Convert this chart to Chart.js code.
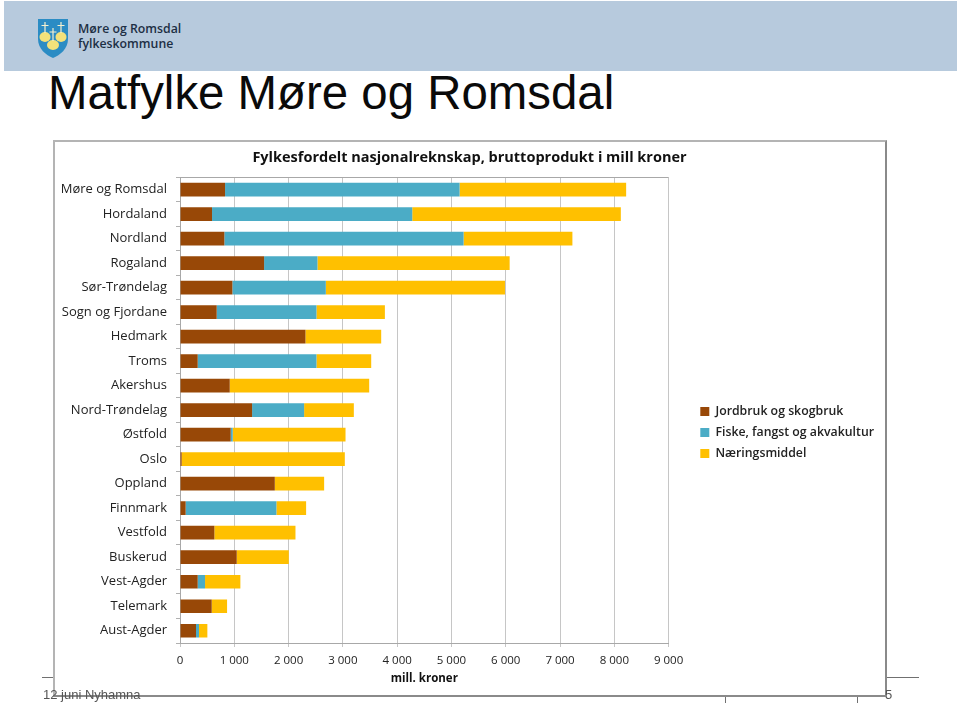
<!DOCTYPE html>
<html>
<head>
<meta charset="utf-8">
<script src="https://cdn.jsdelivr.net/npm/chart.js@4"></script>
<style>
  html, body { margin: 0; padding: 0; background: #fff; }
  body { position: relative; width: 960px; height: 704px; overflow: hidden; font-family: 'Liberation Sans', sans-serif; }
  .band { position: absolute; left: 4px; top: 1px; width: 953px; height: 70px; background: #b7cadd; }
  .shield { position: absolute; left: 38px; top: 19px; }
  .org { position: absolute; left: 78px; top: 21px; font: 600 12.3px/15px 'Open Sans', sans-serif; color: #1d2f44; }
  h1 { position: absolute; left: 48px; top: 63px; margin: 0; font: 400 47.4px/60px 'Liberation Sans', sans-serif; color: #0a0a0a; }
  .panel { position: absolute; left: 53px; top: 140px; width: 830px; height: 553px; background: #fff;
    border: 2px solid #b4b4b4; border-right-color: #8a8a8a; border-bottom-color: #8a8a8a; filter: blur(0.35px); }
  .rule { position: absolute; background: #707070; }
  .foot { position: absolute; font-size: 13px; line-height: 16px; color: #555; }
</style>
</head>
<body>
<div class="band"></div>
<svg class="shield" width="30" height="40" viewBox="0 0 30 40">
  <path d="M0 0H30V20C30 30 22 36 15 39C8 36 0 30 0 20Z" fill="#2b8cc4"/>
  <g fill="#f4e27a">
    <ellipse cx="7" cy="18" rx="5.5" ry="5"/>
    <ellipse cx="23" cy="18" rx="5.5" ry="5"/>
    <ellipse cx="15" cy="26" rx="6" ry="5"/>
  </g>
  <g stroke="#f5f1d0" stroke-width="1.2">
    <path d="M7 3V14M3.5 6.5H10.5"/>
    <path d="M23 3V14M19.5 6.5H26.5"/>
    <path d="M15 9V22M11.5 13H18.5"/>
  </g>
</svg>
<div class="org">Møre og Romsdal<br>fylkeskommune</div>
<h1>Matfylke Møre og Romsdal</h1>

<div class="rule" style="left:42px;top:677px;width:12px;height:1px"></div>
<div class="rule" style="left:886px;top:677px;width:33px;height:1px"></div>
<div class="rule" style="left:725px;top:696px;width:1px;height:7px"></div>
<div class="rule" style="left:857px;top:696px;width:1px;height:7px"></div>

<div class="panel"><canvas id="fylke" width="830" height="553"></canvas></div>

<div class="foot" style="left:43px;top:687px">12 juni Nyhamna</div>
<div class="foot" style="left:885px;top:687px">5</div>

<script>
const fylker = [
  'Møre og Romsdal', 'Hordaland', 'Nordland', 'Rogaland', 'Sør-Trøndelag',
  'Sogn og Fjordane', 'Hedmark', 'Troms', 'Akershus', 'Nord-Trøndelag',
  'Østfold', 'Oslo', 'Oppland', 'Finnmark', 'Vestfold', 'Buskerud',
  'Vest-Agder', 'Telemark', 'Aust-Agder',
];
const jordbruk = [830, 590, 817, 1549, 965, 676, 2311, 326, 916, 1328, 934, 31, 1746, 104, 633, 1045, 326, 584, 295];
const fiske = [4320, 3688, 4407, 983, 1721, 1838, 0, 2188, 0, 958, 37, 0, 0, 1672, 0, 0, 135, 0, 55];
const naering = [3068, 3842, 2004, 3540, 3300, 1260, 1395, 1008, 2569, 916, 2078, 3005, 909, 547, 1494, 959, 651, 283, 154];
const xTicks = ['0', '1 000', '2 000', '3 000', '4 000', '5 000', '6 000', '7 000', '8 000', '9 000'];

const chartFont = "'Open Sans', sans-serif";
const gridGrey = '#c6c6c6';

// legend and title sit off from where chart.js centers them
const moveBlocks = {
  id: 'moveBlocks',
  afterLayout(chart) {
    const legend = chart.legend;
    legend.top += 14;
    legend.bottom += 14;
    legend.left += 23;
    legend.right += 23;
    chart.titleBlock.left += 11.5;
    chart.titleBlock.right += 11.5;
  },
};

new Chart(document.getElementById('fylke'), {
  type: 'bar',
  plugins: [moveBlocks],
  data: {
    labels: fylker,
    datasets: [
      { label: 'Jordbruk og skogbruk', data: jordbruk, backgroundColor: '#984807' },
      { label: 'Fiske, fangst og akvakultur', data: fiske, backgroundColor: '#4bacc6' },
      { label: 'Næringsmiddel', data: naering, backgroundColor: '#ffc000' },
    ],
  },
  options: {
    indexAxis: 'y',
    responsive: false,
    animation: false,
    categoryPercentage: 1,
    barPercentage: 0.56,
    layout: { padding: { right: 24 } },
    plugins: {
      title: {
        display: true,
        text: 'Fylkesfordelt nasjonalreknskap, bruttoprodukt i mill kroner',
        color: '#111',
        font: { family: chartFont, size: 14.5, weight: 'bold' },
        padding: { top: 7, bottom: 11 },
      },
      legend: {
        position: 'right',
        labels: {
          color: '#222',
          font: { family: chartFont, size: 12.3, weight: '600' },
          boxWidth: 9,
          boxHeight: 9,
          padding: 8.7,
        },
      },
      tooltip: { enabled: false },
    },
    scales: {
      x: {
        stacked: true,
        min: 0,
        max: 9000,
        afterFit(scale) {
          scale.height = 52;
        },
        grid: { color: gridGrey, lineWidth: 1, tickLength: 4 },
        border: { color: '#a8a8a8' },
        ticks: {
          stepSize: 1000,
          maxRotation: 0,
          padding: 7,
          color: '#222',
          font: { family: chartFont, size: 11.5 },
          callback: (value) => xTicks[value / 1000],
        },
        title: {
          display: true,
          text: 'mill. kroner',
          color: '#111',
          font: { family: chartFont, size: 11.5, weight: 'bold' },
          padding: { top: 1, bottom: 9 },
        },
      },
      y: {
        stacked: true,
        afterFit(scale) {
          scale.width = 125;
        },
        grid: {
          offset: true,
          tickLength: 4,
          tickColor: '#b0b0b0',
          color: (ctx) => (ctx.index === 0 ? '#a8a8a8' : 'transparent'),
        },
        border: { color: '#a8a8a8' },
        ticks: {
          padding: 9,
          color: '#222',
          autoSkip: false,
          font: { family: chartFont, size: 13, weight: '500' },
        },
      },
    },
  },
});
</script>
</body>
</html>
